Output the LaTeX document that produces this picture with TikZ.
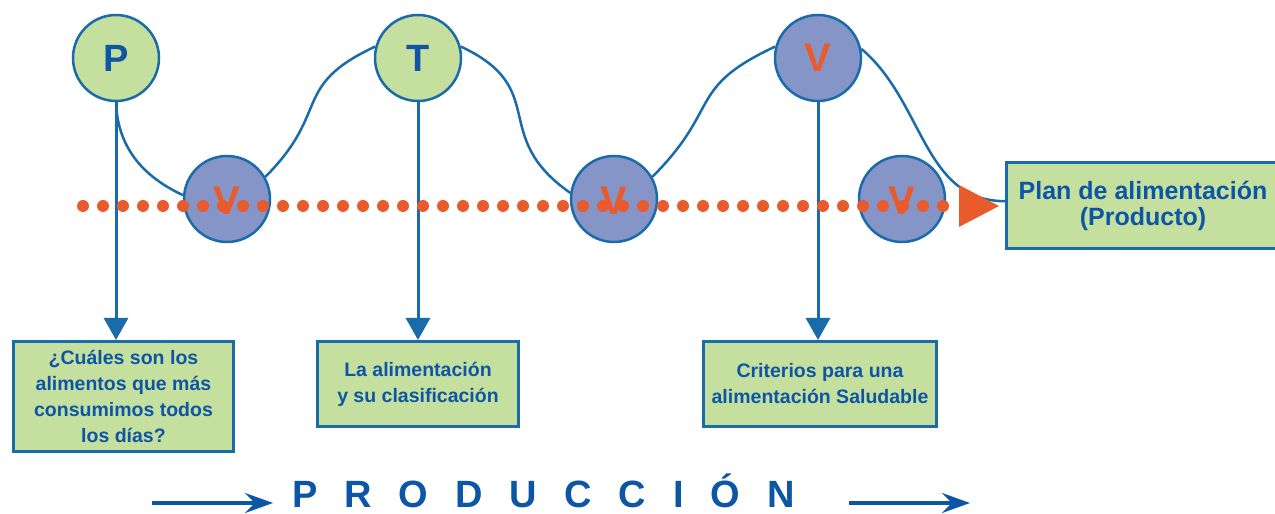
\documentclass[tikz,border=0pt]{standalone}
\usepackage{fontspec}
\setmainfont{Liberation Sans}
\usepackage{tikz}
\usetikzlibrary{arrows.meta}

\definecolor{azul}{HTML}{1A6BAA}
\definecolor{azultexto}{HTML}{0D55A5}
\definecolor{verdeclaro}{HTML}{C5DF9F}
\definecolor{lila}{HTML}{8595C8}
\definecolor{naranja}{HTML}{E95B2C}

\newcommand{\gp}{\kern27pt}

\tikzset{
  bola/.style={circle, draw=azul, line width=2.5pt, minimum size=86pt, inner sep=0pt},
  verde/.style={bola, fill=verdeclaro, text=azultexto, font=\bfseries\fontsize{38}{38}\selectfont},
  violeta/.style={bola, fill=lila},
  letra/.style={text=naranja, inner sep=0pt, font=\bfseries\fontsize{40}{40}\selectfont},
  caja/.style={draw=azul, line width=3pt, fill=verdeclaro, text=azultexto, align=center,
    inner sep=0pt, font=\bfseries\fontsize{19.5}{26}\selectfont},
  onda/.style={draw=azul, line width=2.5pt},
  baja/.style={draw=azul, line width=3pt, -{Triangle[length=22pt,width=24pt]}},
  puntos/.style={draw=naranja, line width=12pt, line cap=round, dash pattern=on 0pt off 20pt,
    shorten >=6pt, -{Triangle[length=40pt,width=42pt,line width=0pt]}},
  flecha/.style={draw=azultexto, line width=3.5pt, -{Stealth[length=28pt,width=20pt,inset=10pt]}}
}

\begin{document}
\begin{tikzpicture}[x=1pt,y=1pt]
  \useasboundingbox (0,0) rectangle (1275,514);
  % circulos
  \node[verde] (P) at (116,456) {P};
  \node[verde] (T) at (418,456) {T};
  \node[violeta] (Vs) at (818,456) {};
  \node[violeta] (V1) at (227,315) {};
  \node[violeta] (V2) at (614,315) {};
  \node[violeta] (V3) at (902,315) {};
  % cajas
  \node[caja, minimum width=220pt, minimum height=110pt] (c1) at (123.5,117.5)
    {¿Cuáles son los\\alimentos que más\\consumimos todos\\los días?};
  \node[caja, minimum width=201pt, minimum height=85pt] (c2) at (418,130)
    {La alimentación\\y su clasificación};
  \node[caja, minimum width=233pt, minimum height=85pt] (c3) at (820,130)
    {Criterios para una\\alimentación Saludable};
  \node[caja, minimum width=273pt, minimum height=86pt, font=\bfseries\fontsize{25}{26}\selectfont] (plan) at (1143,308)
    {Plan de alimentación\\(Producto)};
  % onda
  \draw[onda] (P.south) to[out=-88,in=155] (V1.175);
  \draw[onda] (V1.30) to[out=45,in=205,looseness=1.4] (T.165);
  \draw[onda] (T.15) to[out=-25,in=145,looseness=1.4] (V2.172);
  \draw[onda] (V2.30) to[out=45,in=205,looseness=1.4] (Vs.165);
  \draw[onda] (Vs.12) to[out=-40,in=180] (plan.178);
  % flechas hacia las cajas
  \draw[baja] (P) -- (P |- c1.north);
  \draw[baja] (T) -- (T |- c2.north);
  \draw[baja] (Vs) -- (Vs |- c3.north);
  % linea de puntos
  \coordinate (ini) at (83,308);
  \draw[puntos] (ini) -- (plan.west);
  \node[letra] (l1) at (227,313) {V};
  \node[letra] (l2) at (614,313) {V};
  \node[letra] (l3) at (902,313) {V};
  \node[letra] (ls) at (Vs) {V};
  % produccion
  \node[anchor=base west, inner sep=0pt, text=azultexto, font=\bfseries\fontsize{38}{38}\selectfont] (prod) at (292,6)
    {P\gp R\gp O\gp D\gp U\gp C\gp C\gp I\gp Ó\gp N};
  \coordinate (f1) at (152,11);
  \coordinate (f2) at (273,11);
  \coordinate (f3) at (849,11);
  \coordinate (f4) at (970,11);
  \draw[flecha] (f1) -- (f2);
  \draw[flecha] (f3) -- (f4);
\end{tikzpicture}
\end{document}
